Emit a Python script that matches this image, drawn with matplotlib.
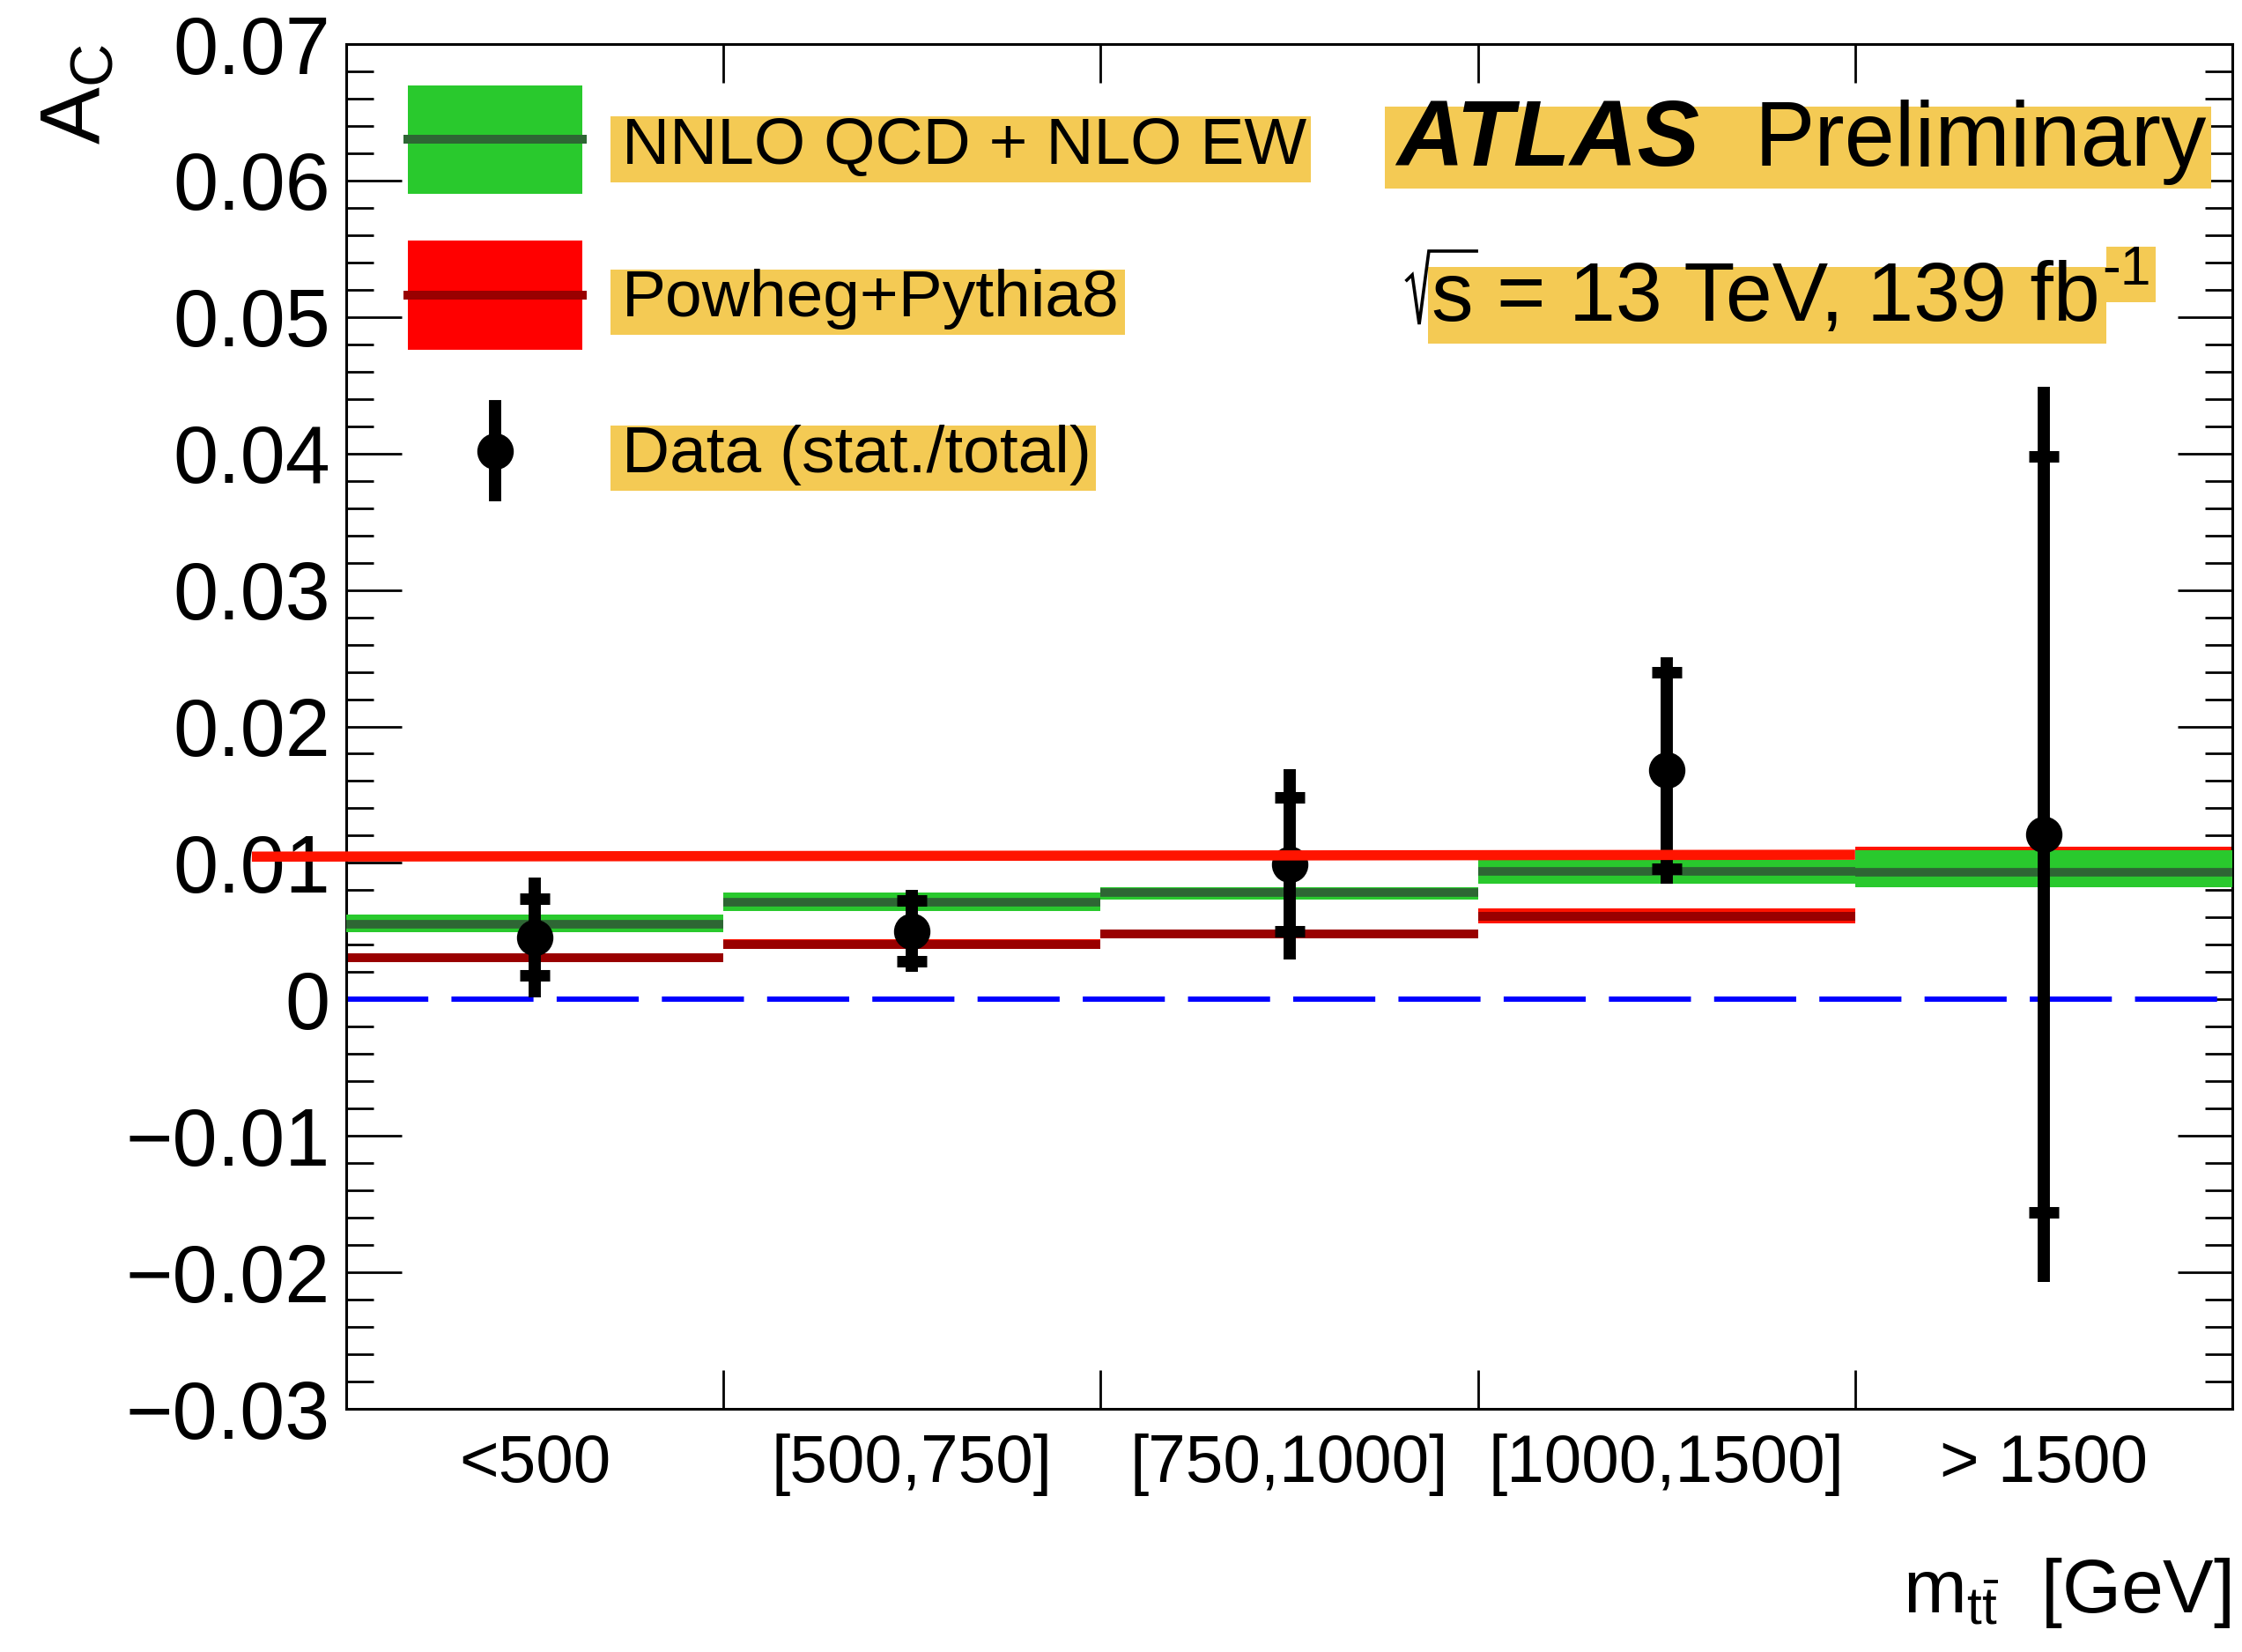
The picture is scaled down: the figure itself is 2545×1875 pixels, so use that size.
import numpy as np
import matplotlib
matplotlib.use("Agg")
import matplotlib.pyplot as plt
from matplotlib.patches import Rectangle
from matplotlib.lines import Line2D
from matplotlib.ticker import MultipleLocator, FixedLocator, NullFormatter

plt.rcParams['font.family'] = ['Liberation Sans', 'DejaVu Sans']
plt.rcParams['mathtext.fontset'] = 'custom'
plt.rcParams['mathtext.rm'] = 'Liberation Sans'
plt.rcParams['mathtext.it'] = 'Liberation Sans:italic'
plt.rcParams['mathtext.bf'] = 'Liberation Sans:bold'

# --- donnees ---
bin_labels = ['<500', '[500,750]', '[750,1000]', '[1000,1500]', '> 1500']
bin_edges = [0, 1, 2, 3, 4, 5]

data_ac = [0.00456, 0.00502, 0.0099, 0.0168, 0.0121]
data_stat = [0.0028, 0.0022, 0.0049, 0.0072, 0.0277]
data_tot = [0.0044, 0.0030, 0.0070, 0.0083, 0.0328]

nnlo_c = [0.0055, 0.0071, 0.0078, 0.0094, 0.0093]
nnlo_lo = [0.0049, 0.0065, 0.0073, 0.0085, 0.0082]
nnlo_hi = [0.0062, 0.0078, 0.0082, 0.0102, 0.0109]

pow_c = [0.00305, 0.00405, 0.0048, 0.0061, 0.0096]
pow_lo = [0.0027, 0.0037, 0.00445, 0.00555, 0.0086]
pow_hi = [0.0034, 0.0044, 0.00515, 0.00665, 0.0112]

redline_x = [-0.25, 4.0]
redline_y = [0.01046, 0.0106]

yticks = [-0.03, -0.02, -0.01, 0.0, 0.01, 0.02, 0.03, 0.04, 0.05, 0.06, 0.07]
ytick_labels = ['\u22120.03', '\u22120.02', '\u22120.01', '0', '0.01', '0.02',
                '0.03', '0.04', '0.05', '0.06', '0.07']

hl = '#f4ca54'          # surlignage jaune
c_green = '#29c92d'
c_dgreen = '#2e6634'
c_red = '#ff1400'
c_dred = '#990000'

fig = plt.figure(figsize=(25.45, 18.75), dpi=100)
ax = fig.add_axes([0.15442, 0.1472, 0.84126, 0.82613])
T = ax.transAxes

# bandes par bin
for i in range(len(bin_labels)):
    x0, x1 = bin_edges[i], bin_edges[i + 1]
    ax.fill_between([x0, x1], pow_lo[i], pow_hi[i], color=c_red, lw=0, zorder=1)
    ax.hlines(pow_c[i], x0, x1, color=c_dred, lw=7.2, zorder=2)
    ax.fill_between([x0, x1], nnlo_lo[i], nnlo_hi[i], color=c_green, lw=0, zorder=3)
    ax.hlines(nnlo_c[i], x0, x1, color=c_dgreen, lw=7.0, zorder=4)

# ligne zero
ax.axhline(0, color='#0000ff', lw=4.3, dashes=(15.6, 4.4), zorder=2.5)

# donnees
xc = [0.5 * (bin_edges[i] + bin_edges[i + 1]) for i in range(len(bin_labels))]
ax.errorbar(xc, data_ac, yerr=data_tot, fmt='o', color='k', ms=28.8,
            elinewidth=10, capsize=0, zorder=6)
ax.errorbar(xc, data_ac, yerr=data_stat, fmt='none', ecolor='k', elinewidth=0,
            capsize=11.9, capthick=9.4, zorder=6)

# ligne rouge
ax.plot(redline_x, redline_y, color=c_red, lw=8.3, solid_capstyle='butt',
        clip_on=False, zorder=8)

ax.set_xlim(0, 5)
ax.set_ylim(-0.03, 0.07)

ax.yaxis.set_major_locator(FixedLocator(yticks))
ax.set_yticklabels(ytick_labels)
ax.yaxis.set_minor_locator(MultipleLocator(0.002))
ax.tick_params(axis='y', which='major', direction='in', length=45, width=2,
               left=True, right=True, labelsize=66, pad=13)
ax.tick_params(axis='y', which='minor', direction='in', length=22, width=2,
               left=True, right=True)

ax.xaxis.set_major_locator(FixedLocator(bin_edges[1:-1]))
ax.xaxis.set_major_formatter(NullFormatter())
ax.xaxis.set_minor_locator(FixedLocator(xc))
ax.set_xticklabels(bin_labels, minor=True)
ax.tick_params(axis='x', which='major', direction='in', length=32, width=2,
               top=True, bottom=True)
ax.tick_params(axis='x', which='minor', length=0, labelsize=55, pad=20)

for s in ax.spines.values():
    s.set_linewidth(2.2)

# titres des axes
ax.text(-0.1425, 1.0, r'$\mathregular{A_C}$', transform=T,
        rotation=90, ha='center', va='top', fontsize=70)
fig.text(0.9949, 0.024, r'$\mathregular{m_{t\bar{t}}}$  [GeV]', ha='right',
         va='baseline', fontsize=62)

# surlignages jaunes (x0, y0, largeur, hauteur) en coordonnees axes
highlights = [
    (0.1401, 0.8988, 0.3713, 0.0484),   # NNLO
    (0.1401, 0.7870, 0.2728, 0.0479),   # Powheg
    (0.1401, 0.6729, 0.2574, 0.0478),   # Data
    (0.5507, 0.8941, 0.4381, 0.0601),   # ATLAS Preliminary
    (0.5736, 0.7805, 0.3596, 0.0562),   # sqrt(s)
    (0.9332, 0.8109, 0.0262, 0.0406),   # exposant
]
for x0, y0, w, h in highlights:
    ax.add_patch(Rectangle((x0, y0), w, h, transform=T, color=hl, lw=0, zorder=10))

# legende (dessinee a la main, style ROOT)
ax.add_patch(Rectangle((0.0327, 0.8903), 0.0925, 0.0793, transform=T,
                       color=c_green, lw=0, zorder=10))
ax.add_line(Line2D([0.0327, 0.1252], [0.9303, 0.9303], transform=T,
                   color=c_dgreen, lw=7.2, zorder=11))
ax.add_patch(Rectangle((0.0327, 0.7760), 0.0925, 0.0800, transform=T,
                       color='#ff0000', lw=0, zorder=10))
ax.add_line(Line2D([0.0327, 0.1252], [0.8160, 0.8160], transform=T,
                   color=c_dred, lw=7.2, zorder=11))
ax.add_line(Line2D([0.0789, 0.0789], [0.6695, 0.7346], transform=T,
                   color='k', lw=10, zorder=11))
ax.add_line(Line2D([0.0789], [0.7019], transform=T, color='k', marker='o',
                   ms=28.8, lw=0, zorder=11))

leg_labels = ['NNLO QCD + NLO EW', 'Powheg+Pythia8', 'Data (stat./total)']
leg_y = [0.9122, 0.8003, 0.6863]
for lab, yy in zip(leg_labels, leg_y):
    ax.text(0.1462, yy, lab, transform=T, fontsize=54, ha='left', va='baseline',
            zorder=12)

# ATLAS Preliminary
ax.text(0.5568, 0.9109, 'ATLAS', transform=T, fontsize=76, fontweight='bold',
        fontstyle='italic', ha='left', va='baseline', zorder=12)
ax.text(0.7465, 0.9109, 'Preliminary', transform=T, fontsize=74,
        ha='left', va='baseline', zorder=12)

# energie / luminosite (racine tracee a la ROOT)
ax.add_line(Line2D([0.5623, 0.5652, 0.5689, 0.5740, 0.5993],
                   [0.8270, 0.8309, 0.7947, 0.8483, 0.8483], transform=T,
                   color='k', lw=2.6, solid_joinstyle='miter', zorder=12))
t_lumi = ax.text(0.5754, 0.7973, 's = 13 TeV, 139 fb', transform=T,
                 fontsize=68.5, ha='left', va='baseline', zorder=12)
ax.annotate('-1', xy=(1.0, 0.8238), xycoords=(t_lumi, T), xytext=(2, 0),
            textcoords='offset points', fontsize=45, ha='left', va='baseline',
            zorder=12)

fig.savefig('out.png', dpi=100)
